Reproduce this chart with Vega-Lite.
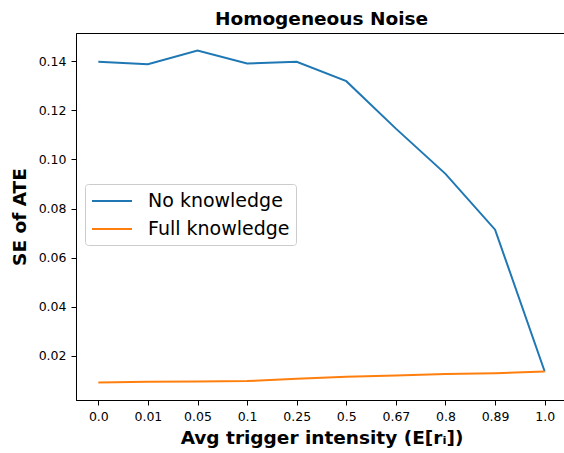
{
  "$schema": "https://vega.github.io/schema/vega-lite/v6.json",
  "width": 491,
  "height": 367,
  "autosize": {"type": "none"},
  "padding": {"left": 76, "top": 33, "right": 0, "bottom": 53},
  "background": "white",
  "title": {
    "text": "Homogeneous Noise",
    "font": "DejaVu Sans",
    "fontSize": 18.5,
    "fontWeight": "bold",
    "color": "black",
    "anchor": "middle",
    "baseline": "alphabetic",
    "offset": -10
  },
  "data": {
    "values": [
      {"x": "0.0", "series": "No knowledge", "se": 0.1397},
      {"x": "0.01", "series": "No knowledge", "se": 0.1387},
      {"x": "0.05", "series": "No knowledge", "se": 0.1443},
      {"x": "0.1", "series": "No knowledge", "se": 0.1390},
      {"x": "0.25", "series": "No knowledge", "se": 0.1397},
      {"x": "0.5", "series": "No knowledge", "se": 0.1318},
      {"x": "0.67", "series": "No knowledge", "se": 0.1125},
      {"x": "0.8", "series": "No knowledge", "se": 0.0941},
      {"x": "0.89", "series": "No knowledge", "se": 0.0714},
      {"x": "1.0", "series": "No knowledge", "se": 0.0137},
      {"x": "0.0", "series": "Full knowledge", "se": 0.0092},
      {"x": "0.01", "series": "Full knowledge", "se": 0.0095},
      {"x": "0.05", "series": "Full knowledge", "se": 0.0096},
      {"x": "0.1", "series": "Full knowledge", "se": 0.0098},
      {"x": "0.25", "series": "Full knowledge", "se": 0.0107},
      {"x": "0.5", "series": "Full knowledge", "se": 0.0116},
      {"x": "0.67", "series": "Full knowledge", "se": 0.0121},
      {"x": "0.8", "series": "Full knowledge", "se": 0.0127},
      {"x": "0.89", "series": "Full knowledge", "se": 0.0130},
      {"x": "1.0", "series": "Full knowledge", "se": 0.0137}
    ]
  },
  "mark": {"type": "line", "strokeWidth": 2},
  "encoding": {
    "x": {
      "field": "x",
      "type": "ordinal",
      "sort": ["0.0", "0.01", "0.05", "0.1", "0.25", "0.5", "0.67", "0.8", "0.89", "1.0"],
      "scale": {"type": "point", "padding": 0.45},
      "axis": {
        "title": "Avg trigger intensity (E[rᵢ])",
        "labelAngle": 0,
        "titleY": 43,
        "titleX": 245.5,
        "titleBaseline": "alphabetic",
        "titleFontSize": 18.5
      }
    },
    "y": {
      "field": "se",
      "type": "quantitative",
      "scale": {"domain": [0.0021, 0.1514], "nice": false, "zero": false},
      "axis": {
        "title": "SE of ATE",
        "values": [0.02, 0.04, 0.06, 0.08, 0.1, 0.12, 0.14],
        "format": ".2f",
        "titleX": -51,
        "titleY": 183.5,
        "titleBaseline": "alphabetic",
        "titleAngle": -90,
        "titleFontSize": 18.5
      }
    },
    "color": {
      "field": "series",
      "type": "nominal",
      "sort": ["No knowledge", "Full knowledge"],
      "scale": {"domain": ["No knowledge", "Full knowledge"], "range": ["#1f77b4", "#ff7f0e"]},
      "legend": {"title": null}
    }
  },
  "config": {
    "font": "DejaVu Sans",
    "view": {"stroke": "black", "strokeWidth": 1},
    "axis": {
      "grid": false,
      "domainColor": "black",
      "domainWidth": 1,
      "tickColor": "black",
      "tickWidth": 1,
      "tickSize": 5,
      "labelFont": "DejaVu Sans",
      "labelFontSize": 12.5,
      "labelColor": "black",
      "labelPadding": 5,
      "titleFont": "DejaVu Sans",
      "titleFontWeight": "bold",
      "titleColor": "black"
    },
    "legend": {
      "orient": "none",
      "legendX": 9,
      "legendY": 151,
      "fillColor": "white",
      "strokeColor": "#cccccc",
      "cornerRadius": 3,
      "padding": 6,
      "symbolType": "M-1,0H3",
      "symbolSize": 400,
      "symbolStrokeWidth": 2,
      "labelFont": "DejaVu Sans",
      "labelFontSize": 19,
      "labelColor": "black",
      "labelOffset": 35,
      "rowPadding": 7
    }
  }
}
